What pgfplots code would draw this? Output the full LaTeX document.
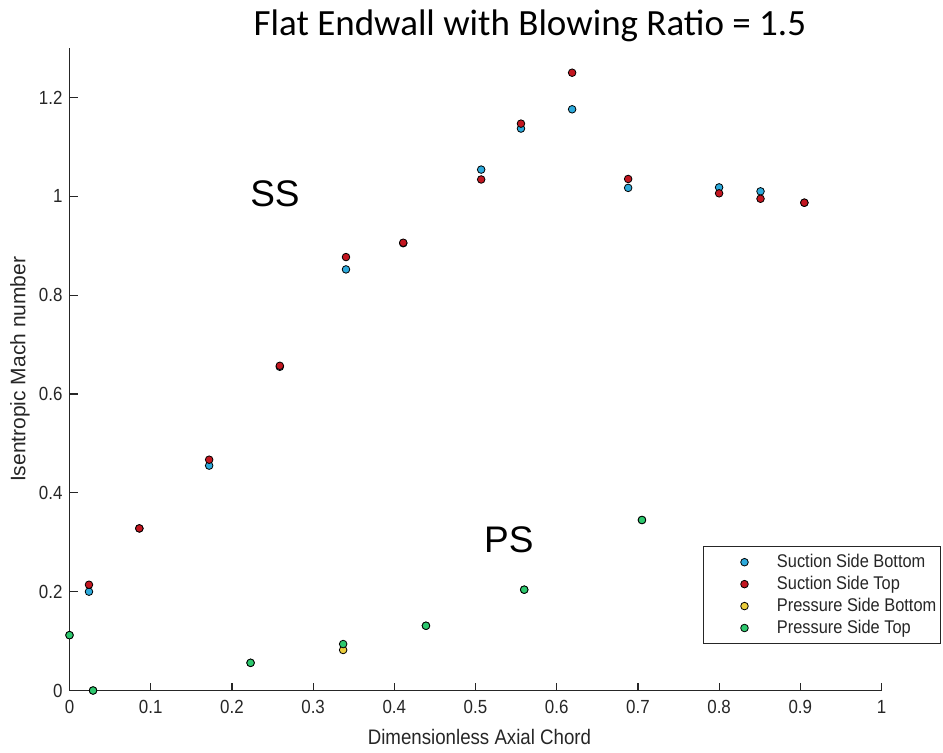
\documentclass[border=0pt]{standalone}
\usepackage{fontspec}
\setmainfont{Liberation Sans}
\newfontfamily\cond[FakeStretch=0.89]{Liberation Sans}
\newfontfamily\carlito{Carlito}
\usepackage{pgfplots}
\pgfplotsset{compat=1.18}
\definecolor{axgray}{rgb}{0.15,0.15,0.15}
\definecolor{cblue}{RGB}{45,170,220}
\definecolor{cred}{RGB}{195,22,32}
\definecolor{cyellow}{RGB}{235,205,60}
\definecolor{cgreen}{RGB}{45,200,110}
\begin{document}
\begin{tikzpicture}
\path[use as bounding box] (0,0) rectangle (471.5pt,376pt);
\begin{axis}[
  at={(34.75pt,30.75pt)}, anchor=origin,
  scale only axis, width=406pt, height=321.25pt,
  xmin=0, xmax=1, ymin=0, ymax=1.3,
  axis x line=bottom, axis y line=left,
  axis line style={axgray, -, line width=0.6pt},
  xtick={0,0.1,...,1.0}, ytick={0,0.2,0.4,0.6,0.8,1,1.2},
  xticklabels={0,0.1,0.2,0.3,0.4,0.5,0.6,0.7,0.8,0.9,1},
  yticklabels={0,0.2,0.4,0.6,0.8,1,1.2},
  tick align=inside, major tick length=4pt,
  tick style={axgray, line width=0.6pt},
  ticklabel style={font=\cond\fontsize{9.5}{11}\selectfont, text=axgray},
  xticklabel style={yshift=-1.5pt},
  /pgf/number format/assume math mode=true,
  xlabel={Dimensionless Axial Chord},
  ylabel={Isentropic Mach number},
  xlabel style={font=\cond\fontsize{10.5}{12}\selectfont, text=axgray,
    at={(axis description cs:0.5,0)}, anchor=center, yshift=-23.25pt, xshift=2pt},
  ylabel style={font=\fontsize{10.5}{12}\selectfont, text=axgray,
    at={(axis description cs:0,0.5)}, anchor=center, yshift=24.75pt},
  clip=false,
  legend style={at={(1.073,0.225)}, anchor=north east, draw=axgray, line width=0.5pt,
    font=\cond\fontsize{9.2}{10}\selectfont, text=axgray, inner xsep=2pt, inner ysep=3.8pt,
    row sep=2.8pt, nodes={inner sep=0pt}},
  legend cell align=left,
  legend image code/.code={\draw[#1] plot coordinates {(18pt,0pt)}; \path (0pt,0pt) (34pt,0pt);},
]
\addplot[only marks, mark=*, mark size=1.9pt, mark options={fill=cblue, draw=black, line width=0.4pt}] coordinates {
(0.024,0.200) (0.086,0.328) (0.172,0.455) (0.259,0.655) (0.3405,0.852) (0.411,0.905)
(0.507,1.054) (0.556,1.137) (0.619,1.176) (0.688,1.017) (0.800,1.018) (0.851,1.010) (0.905,0.987)};
\addlegendentry{Suction Side Bottom}
\addplot[only marks, mark=*, mark size=1.9pt, mark options={fill=cred, draw=black, line width=0.4pt}] coordinates {
(0.024,0.214) (0.086,0.328) (0.172,0.467) (0.259,0.657) (0.3405,0.877) (0.411,0.906)
(0.507,1.034) (0.556,1.147) (0.619,1.250) (0.688,1.035) (0.800,1.006) (0.851,0.995) (0.905,0.987)};
\addlegendentry{Suction Side Top}
\addplot[only marks, mark=*, mark size=1.9pt, mark options={fill=cyellow, draw=black, line width=0.4pt}] coordinates {
(0,0.112) (0.029,0) (0.223,0.056) (0.337,0.082) (0.439,0.131) (0.560,0.204) (0.705,0.345)};
\addlegendentry{Pressure Side Bottom}
\addplot[only marks, mark=*, mark size=1.9pt, mark options={fill=cgreen, draw=black, line width=0.4pt}] coordinates {
(0,0.112) (0.029,0) (0.223,0.056) (0.337,0.094) (0.439,0.131) (0.560,0.204) (0.705,0.345)};
\addlegendentry{Pressure Side Top}
\node[font=\fontsize{18.5}{21}\selectfont] at (axis cs:0.253,1.006) {SS};
\node[font=\fontsize{18.5}{21}\selectfont] at (axis cs:0.541,0.305) {PS};
\end{axis}
\node[font=\carlito\fontsize{18.5}{21}\selectfont, anchor=base] at (265pt,358.5pt) {Flat Endwall with Blowing Ratio = 1.5};
\end{tikzpicture}
\end{document}
